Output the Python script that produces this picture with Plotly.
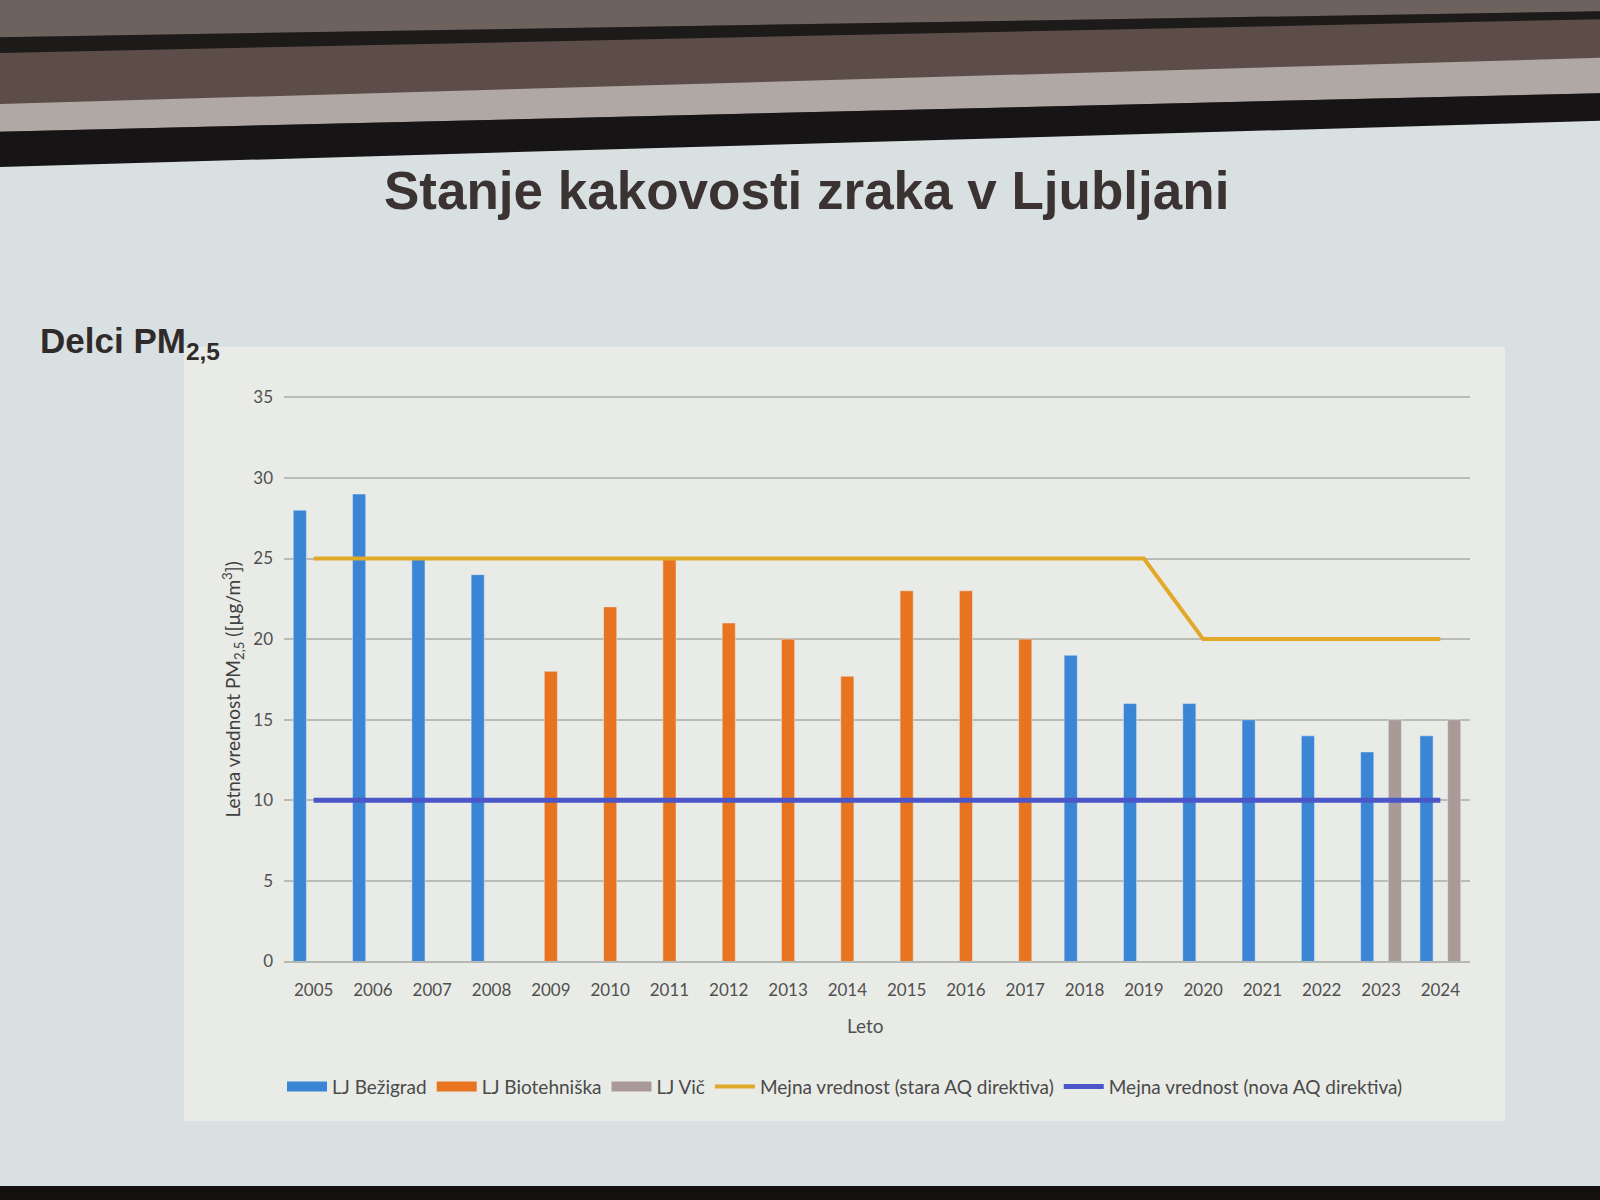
import plotly.graph_objects as go

years = [str(y) for y in range(2005, 2025)]
bezigrad = [28, 29, 25, 24, None, None, None, None, None, None, None, None, None,
            19, 16, 16, 15, 14, 13, 14]
biotehniska = [None, None, None, None, 18, 22, 25, 21, 20, 17.7, 23, 23, 20,
               None, None, None, None, None, None, None]
vic = [None] * 18 + [15, 15]
limit_old = [25] * 15 + [20] * 5
limit_new = [10] * 20

W, H = 1600, 1200
def px(x):
    return x / W
def py(y):
    return 1 - y / H

FONT = "Lato, Open Sans, sans-serif"
C_BEZ, C_BIO, C_VIC = "#3b86d4", "#e8741f", "#a99a98"

fig = go.Figure()
fig.add_bar(x=years, y=bezigrad, name="LJ Bežigrad", marker_color=C_BEZ,
            legendgroup="bez", showlegend=False)
fig.add_bar(x=years, y=biotehniska, name="LJ Biotehniška", marker_color=C_BIO,
            legendgroup="bio", showlegend=False)
fig.add_bar(x=years, y=vic, name="LJ Vič", marker_color=C_VIC,
            legendgroup="vic", showlegend=False)
# legend entries drawn as wide swatches (like the original legend)
for name, col, grp in [("LJ Bežigrad", C_BEZ, "bez"), ("LJ Biotehniška", C_BIO, "bio"),
                       ("LJ Vič", C_VIC, "vic")]:
    fig.add_scatter(x=[None], y=[None], mode="lines", name=name, legendgroup=grp,
                    line=dict(color=col, width=10), hoverinfo="skip")
fig.add_scatter(x=years, y=limit_old, mode="lines", name="Mejna vrednost (stara AQ direktiva)",
                line=dict(color="#e2a829", width=4))
fig.add_scatter(x=years, y=limit_new, mode="lines", name="Mejna vrednost (nova AQ direktiva)",
                line=dict(color="#4b56c9", width=5))

def poly(pts, color):
    path = "M " + " L ".join(f"{px(x)},{py(y)}" for x, y in pts) + " Z"
    return dict(type="path", xref="paper", yref="paper", path=path,
                fillcolor=color, line=dict(width=0), layer="below")

shapes = [
    poly([(-20, -20), (1620, -20), (1620, 100), (-20, 150)], "#5c4d48"),
    poly([(-20, -20), (1620, -20), (1620, 3), (-20, 30)], "#6d625e"),
    poly([(-20, 30), (1620, 3), (1620, 11), (-20, 46)], "#1d1a1a"),
    poly([(-20, 98), (1620, 50), (1620, 86), (-20, 126)], "#b0a8a4"),
    poly([(-20, 126), (1620, 86), (1620, 114), (-20, 162)], "#161414"),
    poly([(-20, 1196), (1620, 1196), (1620, 1220), (-20, 1220)], "#151010"),
    dict(type="rect", xref="paper", yref="paper", x0=px(184), x1=px(1505),
         y0=py(1130), y1=py(344), fillcolor="#e9ebe6", line=dict(width=0), layer="below"),
]

annotations = [
    dict(text="<b>Stanje kakovosti zraka v Ljubljani</b>", x=px(806), y=py(185),
         xref="paper", yref="paper", showarrow=False, xanchor="center", yanchor="middle",
         font=dict(family="Liberation Sans, Arial, sans-serif", size=53, color="#3b3232")),
    dict(text="<b>Delci PM<sub>2,5</sub></b>", x=px(38), y=py(340),
         xref="paper", yref="paper", showarrow=False, xanchor="left", yanchor="middle",
         font=dict(family="Liberation Sans, Arial, sans-serif", size=35, color="#302a2a")),
    dict(text="Letna vrednost PM<sub>2,5</sub> ([µg/m<sup>3</sup>])", x=px(233), y=py(692),
         xref="paper", yref="paper", showarrow=False, textangle=-90,
         xanchor="center", yanchor="middle",
         font=dict(family=FONT, size=19, color="#404040")),
    dict(text="Leto", x=px(865), y=py(1033), xref="paper", yref="paper", showarrow=False,
         xanchor="center", yanchor="middle", font=dict(family=FONT, size=19, color="#505050")),
]

fig.update_layout(
    width=W, height=H,
    margin=dict(l=0, r=0, t=0, b=0),
    paper_bgcolor="#d8e0e2",
    plot_bgcolor="rgba(0,0,0,0)",
    barmode="group", bargap=0.3, bargroupgap=0.05,
    shapes=shapes, annotations=annotations,
    font=dict(family=FONT, color="#4a4a4a"),
    legend=dict(orientation="h", x=px(845), y=py(1095), xanchor="center", yanchor="middle",
                font=dict(family=FONT, size=19, color="#4a4a4a"), bgcolor="rgba(0,0,0,0)",
                itemwidth=40, traceorder="normal", tracegroupgap=0),
    xaxis=dict(domain=[px(284), px(1470)], type="category", showgrid=False,
               showline=True, linecolor="#b5b7b2", linewidth=1.5, ticks="",
               ticklabelstandoff=12,
               tickfont=dict(family=FONT, size=17, color="#505050")),
    yaxis=dict(domain=[py(968), py(392)], range=[0, 35.2], tickvals=[0, 5, 10, 15, 20, 25, 30, 35],
               showgrid=True, gridcolor="#b9bbb6", gridwidth=1.5, zeroline=False, showline=False,
               ticks="", ticklabelstandoff=10,
               tickfont=dict(family=FONT, size=17, color="#505050")),
)

fig.write_html("out.html",
               post_script="document.body.style.margin='0';document.body.style.overflow='hidden';")
